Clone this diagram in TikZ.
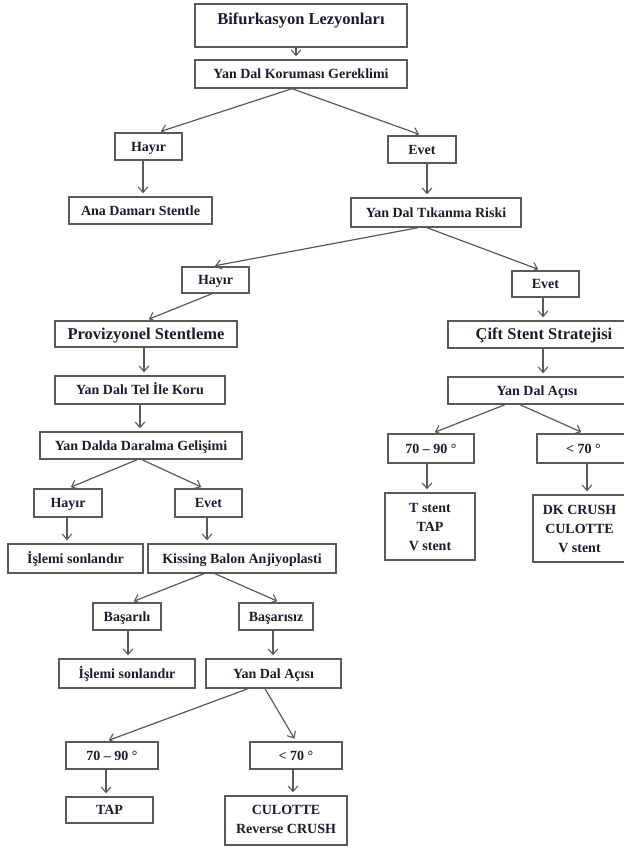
\documentclass[tikz,border=0pt]{standalone}
\usepackage{fontspec}
\setmainfont{Liberation Serif}
\usetikzlibrary{arrows.meta}
\definecolor{edge}{HTML}{5A5A5A}
\definecolor{ink}{HTML}{1C1C30}
\tikzset{
  box/.style={draw=edge, line width=1.4pt, fill=white, inner sep=0pt, align=center,
    text=ink, font=\bfseries\fontsize{14}{19}\selectfont, text height=10pt, text depth=0.8pt},
  big/.style={font=\bfseries\fontsize{16.5}{20}\selectfont, text height=11.5pt, text depth=0.6pt},
  arr/.style={draw=edge, line width=1.2pt,
    -{Straight Barb[length=5.5pt,width=9.5pt,line width=1.1pt]}, shorten >=3pt},
}
\newcommand\mkbox[7][]{\node[box,#1,minimum width={(#4)-(#3)},minimum height={(#6)-(#5)}] (#2) at ({((#3)+(#4))/2},{-((#5)+(#6))/2}) {#7};}
\begin{document}
\begin{tikzpicture}[x=1pt,y=1pt]
\useasboundingbox (0,0) rectangle (624,-847);
\clip (0,0) rectangle (624,-847);
\fill[white] (0,0) rectangle (624,-847);

\mkbox[big,text height=20.4pt,text depth=22.6pt]{bif}{195}{407}{4}{47}{Bifurkasyon Lezyonları}
\mkbox{ydk}{195}{407}{60}{88}{Yan Dal Koruması Gereklimi}
\mkbox{h1}{115}{182}{133}{160}{Hayır}
\mkbox{e1}{388}{456}{136}{163}{Evet}
\mkbox{ana}{69}{212}{197}{224}{Ana Damarı Stentle}
\mkbox{tik}{351}{521}{198}{227}{Yan Dal Tıkanma Riski}
\mkbox{h2}{182}{249}{267}{293}{Hayır}
\mkbox{e2}{512}{579}{271}{297}{Evet}
\mkbox[big]{prov}{55}{237}{321}{347}{Provizyonel Stentleme}
\mkbox[big]{cift}{448}{640}{321}{348}{Çift Stent Stratejisi}
\mkbox{tel}{55}{225}{376}{404}{Yan Dalı Tel İle Koru}
\mkbox{ydaR}{448}{626}{377}{404}{Yan Dal Açısı}
\mkbox{dar}{40}{242}{432}{459}{Yan Dalda Daralma Gelişimi}
\mkbox{r7090}{388}{474}{434}{463}{70 – 90 °}
\mkbox{rlt70}{537}{630}{434}{463}{< 70 °}
\mkbox[text height=48pt]{rT}{385}{475}{493}{560}{T stent\\TAP\\V stent}
\mkbox[text height=48pt]{rDK}{533}{626}{495}{562}{DK CRUSH\\CULOTTE\\V stent}
\mkbox{h3}{34}{102}{489}{517}{Hayır}
\mkbox{e3}{175}{242}{489}{517}{Evet}
\mkbox{is1}{8}{143}{544}{573}{İşlemi sonlandır}
\mkbox{kis}{148}{336}{544}{573}{Kissing Balon Anjiyoplasti}
\mkbox{bas}{93}{161}{603}{630}{Başarılı}
\mkbox{basz}{239}{313}{603}{630}{Başarısız}
\mkbox{is2}{59}{195}{659}{688}{İşlemi sonlandır}
\mkbox{ydaL}{206}{341}{659}{688}{Yan Dal Açısı}
\mkbox{l7090}{66}{158}{742}{769}{70 – 90 °}
\mkbox{llt70}{250}{342}{742}{769}{< 70 °}
\mkbox{tap}{66}{153}{797}{823}{TAP}
\mkbox[text height=27pt]{cul}{225}{347}{796}{845}{CULOTTE\\Reverse CRUSH}

\draw[arr] (bif.south -| 296,0) -- (ydk.north -| 296,0);
\draw[arr] (ydk.south -| 292,0) -- (h1.north -| 158,0);
\draw[arr] (ydk.south -| 292,0) -- (e1.north -| 422,0);
\draw[arr] (h1.south -| 143,0) -- (ana.north -| 143,0);
\draw[arr] (e1.south -| 427,0) -- (tik.north -| 427,0);
\draw[arr] (tik.south -| 418,0) -- (h2.north -| 212,0);
\draw[arr] (tik.south -| 427,0) -- (e2.north -| 541,0);
\draw[arr] (h2.south -| 212,0) -- (prov.north -| 146,0);
\draw[arr] (e2.south -| 543,0) -- (cift.north -| 543,0);
\draw[arr] (prov.south -| 144,0) -- (tel.north -| 144,0);
\draw[arr] (cift.south -| 543,0) -- (ydaR.north -| 543,0);
\draw[arr] (tel.south -| 140,0) -- (dar.north -| 140,0);
\draw[arr] (ydaR.south -| 505,0) -- (r7090.north -| 432,0);
\draw[arr] (ydaR.south -| 520,0) -- (rlt70.north -| 584,0);
\draw[arr] (r7090.south -| 427,0) -- (rT.north -| 427,0);
\draw[arr] (rlt70.south -| 587,0) -- (rDK.north -| 587,0);
\draw[arr] (dar.south -| 137,0) -- (h3.north -| 68,0);
\draw[arr] (dar.south -| 142,0) -- (e3.north -| 204,0);
\draw[arr] (h3.south -| 67,0) -- (is1.north -| 67,0);
\draw[arr] (e3.south -| 207,0) -- (kis.north -| 207,0);
\draw[arr] (kis.south -| 204,0) -- (bas.north -| 131,0);
\draw[arr] (kis.south -| 215,0) -- (basz.north -| 280,0);
\draw[arr] (bas.south -| 128,0) -- (is2.north -| 128,0);
\draw[arr] (basz.south -| 273,0) -- (ydaL.north -| 273,0);
\draw[arr] (ydaL.south -| 248,0) -- (l7090.north -| 106,0);
\draw[arr] (ydaL.south -| 265,0) -- (llt70.north -| 296,0);
\draw[arr] (l7090.south -| 106,0) -- (tap.north -| 106,0);
\draw[arr] (llt70.south -| 293,0) -- (cul.north -| 293,0);
\end{tikzpicture}
\end{document}
